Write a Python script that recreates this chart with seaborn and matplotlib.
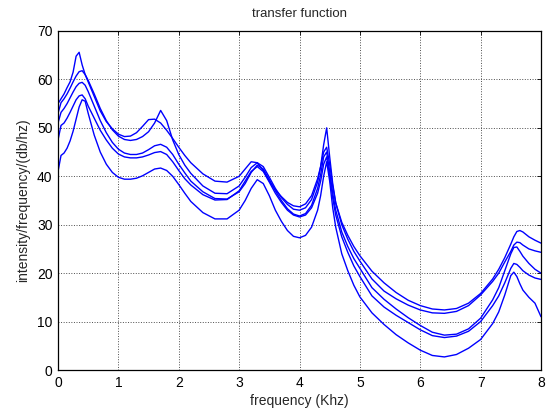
import matplotlib
matplotlib.use("Agg")
import matplotlib.pyplot as plt
import pandas as pd
import seaborn as sns

freq = [0, 0.05, 0.1, 0.15, 0.2, 0.25, 0.3, 0.35, 0.4, 0.45, 0.5, 0.6, 0.7, 0.8, 0.9,
        1.0, 1.1, 1.2, 1.3, 1.4, 1.5, 1.6, 1.7, 1.8, 1.9, 2.0, 2.1, 2.2, 2.4, 2.6, 2.8,
        3.0, 3.1, 3.2, 3.3, 3.4, 3.5, 3.6, 3.7, 3.8, 3.9, 4.0, 4.1, 4.2, 4.3, 4.35, 4.4,
        4.45, 4.5, 4.55, 4.6, 4.7, 4.8, 4.9, 5.0, 5.2, 5.4, 5.6, 5.8, 6.0, 6.2, 6.4, 6.6,
        6.8, 7.0, 7.2, 7.3, 7.4, 7.5, 7.55, 7.6, 7.65, 7.7, 7.8, 7.9, 8.0]

curve1 = [55.0, 56.0, 57.0, 58.3, 59.5, 61.5, 64.8, 65.6, 63.0, 61.0, 59.5, 56.5, 53.5, 51.3, 49.8,
          48.7, 48.2, 48.3, 49.0, 50.3, 51.7, 51.8, 51.0, 49.5, 47.8, 46.0, 44.3, 42.8, 40.5, 39.0, 38.8,
          40.0, 41.5, 43.0, 42.8, 41.2, 39.0, 37.2, 35.8, 34.6, 33.9, 33.7, 34.3, 36.0, 39.5, 42.0, 45.0,
          46.0, 42.5, 38.0, 34.5, 30.5, 27.8, 25.5, 23.6, 20.4, 18.0, 16.0, 14.4, 13.3, 12.6, 12.4, 12.7,
          13.8, 15.8, 18.8, 20.8, 23.2, 26.0, 27.5, 28.6, 28.8, 28.5, 27.5, 26.8, 26.2]

curve2 = [53.0, 55.2, 56.0, 57.0, 58.2, 59.5, 60.7, 61.6, 61.8, 61.0, 59.8, 57.0, 54.0, 51.5, 49.6,
          48.3, 47.6, 47.4, 47.6, 48.2, 49.2, 51.0, 53.6, 51.5, 47.5, 44.5, 42.3, 40.6, 38.0, 36.5, 36.4,
          38.0, 39.8, 41.8, 42.8, 42.0, 39.8, 37.5, 35.6, 34.2, 33.2, 33.0, 33.5, 35.2, 38.8, 42.0, 46.5,
          50.0, 44.0, 38.5, 34.5, 30.0, 27.0, 24.5, 22.5, 18.8, 16.3, 14.7, 13.4, 12.4, 11.8, 11.7, 12.1,
          13.3, 15.5, 18.3, 20.0, 22.3, 24.5, 25.8, 26.4, 26.3, 25.8, 25.0, 24.6, 24.3]

curve3 = [51.0, 53.2, 54.0, 55.0, 56.2, 57.4, 58.5, 59.2, 59.4, 58.8, 57.5, 54.5, 51.5, 49.0, 47.0,
          45.6, 44.8, 44.5, 44.5, 44.8, 45.5, 46.3, 46.6, 46.0, 44.5, 42.5, 40.7, 39.0, 36.8, 35.4, 35.3,
          36.8, 38.5, 40.8, 42.3, 41.5, 39.3, 37.0, 35.0, 33.3, 32.2, 31.8, 32.3, 34.0, 37.5, 40.3, 44.0,
          45.0, 41.0, 36.5, 33.0, 28.5, 25.5, 23.0, 21.0, 17.0, 14.6, 12.6, 10.8, 9.2, 7.8, 7.2, 7.4,
          8.5, 10.7, 14.5, 17.0, 20.5, 24.0, 25.3, 25.4, 24.5, 23.5, 22.0, 20.8, 20.0]

curve4 = [47.5, 50.5, 51.0, 52.0, 53.2, 54.5, 55.8, 56.6, 56.8, 56.0, 54.5, 52.0, 49.5, 47.5, 45.8,
          44.6, 44.0, 43.8, 43.8, 44.0, 44.4, 44.9, 45.1, 44.5, 43.0, 41.2, 39.5, 38.2, 36.2, 35.1, 35.2,
          37.0, 39.0, 41.0, 42.0, 41.0, 38.8, 36.5, 34.6, 33.0, 32.0, 31.6, 32.0, 33.5, 36.5, 39.0, 42.5,
          44.0, 40.0, 35.5, 32.0, 27.5, 24.3, 21.5, 19.3, 15.3, 13.0, 11.3, 9.8, 8.3, 7.1, 6.7, 7.0,
          8.0, 10.0, 13.3, 15.3, 18.0, 21.0, 22.0, 21.8, 21.2, 20.5, 19.6, 19.0, 18.7]

curve5 = [41.0, 44.3, 44.8, 45.8, 47.3, 49.3, 51.8, 54.3, 55.8, 55.5, 53.0, 48.5, 45.0, 42.5, 40.8,
          39.8, 39.4, 39.4, 39.6, 40.1, 40.8, 41.5, 41.7, 41.2, 40.0, 38.3, 36.5, 34.8, 32.5, 31.2, 31.2,
          33.0, 35.0, 37.5, 39.3, 38.5, 36.0, 33.0, 30.7, 28.8, 27.6, 27.3, 27.8, 29.5, 33.0, 36.0, 40.0,
          43.0, 39.0, 33.5, 29.5, 24.0, 20.5, 17.5, 15.1, 11.8, 9.4, 7.3, 5.6, 4.1, 3.0, 2.7, 3.2,
          4.5, 6.3, 9.6, 12.0, 15.5, 19.5, 20.2, 19.3, 17.8, 16.5, 15.0, 13.8, 11.0]

curve_names = ["c1", "c2", "c3", "c4", "c5"]
xticks = [0, 1, 2, 3, 4, 5, 6, 7, 8]
yticks = [0, 10, 20, 30, 40, 50, 60, 70]

sns.set_style("white")
plt.rcParams['font.family'] = ['Liberation Sans', 'DejaVu Sans']

frames = []
for name, vals in zip(curve_names, [curve1, curve2, curve3, curve4, curve5]):
    frames.append(pd.DataFrame({"freq": freq, "value": vals, "curve": name}))
df = pd.concat(frames, ignore_index=True)

fig = plt.figure(figsize=(5.53, 4.08), dpi=100)
ax = fig.add_axes([58 / 553, 1 - 370 / 408, 483 / 553, 339 / 408])

sns.lineplot(data=df, x="freq", y="value", hue="curve", palette=["#0000ff"] * 5,
             estimator=None, sort=False, legend=False, linewidth=1.0, ax=ax)

ax.set_xlim(0, 8)
ax.set_ylim(0, 70)
ax.set_xticks(xticks)
ax.set_yticks(yticks)
ax.set_xticklabels([str(t) for t in xticks])
ax.set_yticklabels([str(t) for t in yticks])
ax.set_axisbelow(True)
ax.grid(True, color="0.3", linestyle=":", linewidth=0.7)
for s in ax.spines.values():
    s.set_visible(True)
    s.set_color("black")
    s.set_linewidth(0.9)
ax.tick_params(direction="in", length=3, width=0.6, top=True, right=True,
               labelsize=10, colors="black", pad=4)
ax.set_title("transfer function", fontsize=9.5, pad=10)
ax.set_xlabel("frequency (Khz)", fontsize=10, labelpad=3)
ax.set_ylabel("intensity/frequency/(db/hz)", fontsize=10, labelpad=5)

fig.savefig("out.png", dpi=100)
